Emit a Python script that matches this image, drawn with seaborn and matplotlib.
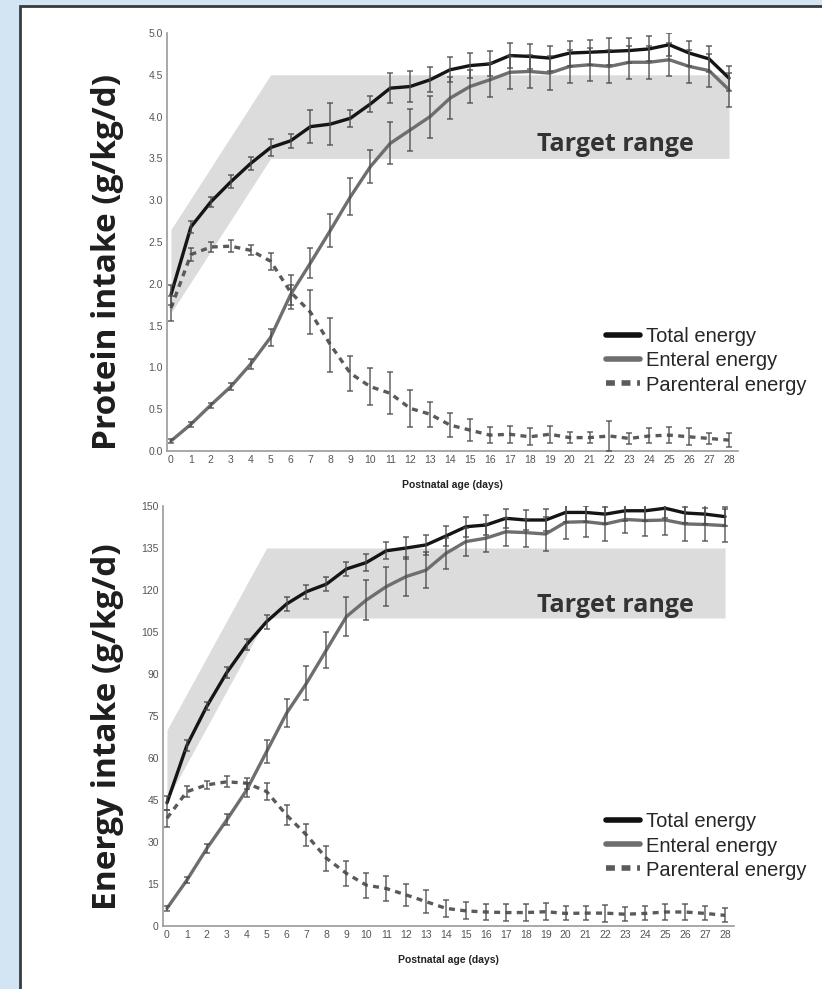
import pandas as pd
import matplotlib
matplotlib.use("Agg")
import matplotlib.pyplot as plt
import seaborn as sns
from matplotlib.lines import Line2D
from matplotlib.patches import Rectangle

# Postnatal days shown on the x axis
days = list(range(29))

# Protein intake (g/kg/d), mean and error
protein_total = [1.87, 2.68, 2.98, 3.22, 3.44, 3.63, 3.71, 3.88, 3.91, 3.98, 4.15, 4.34, 4.36, 4.44, 4.56,
                 4.61, 4.63, 4.73, 4.72, 4.70, 4.76, 4.77, 4.78, 4.79, 4.81, 4.86, 4.76, 4.69, 4.46]
protein_total_err = [0.12, 0.07, 0.06, 0.08, 0.08, 0.1, 0.08, 0.2, 0.25, 0.1, 0.1, 0.18, 0.18, 0.15, 0.15,
                     0.15, 0.15, 0.15, 0.15, 0.15, 0.15, 0.15, 0.16, 0.15, 0.15, 0.14, 0.15, 0.16, 0.15]
protein_enteral = [0.12, 0.32, 0.55, 0.77, 1.04, 1.36, 1.87, 2.25, 2.64, 3.04, 3.40, 3.68, 3.84, 4.00, 4.22,
                   4.36, 4.44, 4.53, 4.54, 4.52, 4.60, 4.62, 4.60, 4.65, 4.65, 4.68, 4.60, 4.55, 4.32]
protein_enteral_err = [0.02, 0.03, 0.03, 0.04, 0.06, 0.1, 0.12, 0.18, 0.2, 0.22, 0.2, 0.25, 0.25, 0.25, 0.25,
                       0.2, 0.2, 0.2, 0.2, 0.2, 0.2, 0.2, 0.2, 0.2, 0.2, 0.2, 0.2, 0.2, 0.2]
protein_parenteral = [1.71, 2.35, 2.44, 2.45, 2.40, 2.27, 1.90, 1.66, 1.27, 0.93, 0.77, 0.69, 0.51, 0.44, 0.31,
                      0.25, 0.19, 0.20, 0.17, 0.20, 0.16, 0.16, 0.18, 0.15, 0.18, 0.19, 0.17, 0.15, 0.13]
protein_parenteral_err = [0.15, 0.08, 0.06, 0.07, 0.06, 0.1, 0.2, 0.26, 0.32, 0.21, 0.22, 0.25, 0.22, 0.15, 0.14,
                          0.13, 0.1, 0.1, 0.1, 0.1, 0.07, 0.07, 0.18, 0.07, 0.09, 0.1, 0.1, 0.07, 0.08]

# Energy intake, mean and error
energy_total = [44, 64.5, 78.5, 90.5, 100.5, 108.7, 115, 119.4, 122.1, 127.5, 129.8, 134, 135, 136.1, 139.3,
                142.6, 143.2, 145.6, 145, 145, 147.7, 147.7, 147.1, 148.3, 148.3, 149.2, 147.5, 147.1, 146.2]
energy_total_err = [2.5, 2, 1.5, 2, 2, 2.5, 2.5, 2.5, 2.5, 2.5, 3, 3, 4, 3.5, 3.5,
                    3.5, 3.5, 3.5, 3.5, 4, 3.5, 3.5, 3.5, 3.5, 3.5, 3.5, 3.5, 3.5, 3.5]
energy_enteral = [6.3, 16.4, 27.7, 37.9, 48.6, 62.3, 76, 86.7, 98.6, 110.5, 116.4, 121.2, 124.8, 127.1, 133.1,
                  137.3, 138.5, 140.8, 140.5, 140, 144.2, 144.4, 143.6, 145.2, 144.8, 145, 143.6, 143.4, 143]
energy_enteral_err = [1, 1, 1.5, 2, 2.5, 4, 5, 6, 6.5, 7, 7, 7, 7, 6.5, 5.5,
                      5, 5, 5, 5, 6, 6, 5.5, 6, 5, 5.5, 5.5, 6, 6, 6]
energy_parenteral = [38.5, 48, 50.4, 51.5, 51, 48, 39.6, 32.5, 24.2, 18.8, 14.6, 13.4, 11.1, 8.7, 6.3,
                     5.4, 5.0, 4.8, 4.8, 5.1, 4.5, 4.6, 4.6, 4.2, 4.5, 5.0, 5.0, 4.5, 3.8]
energy_parenteral_err = [3, 2, 1.5, 2, 2, 3, 3.5, 4, 4.5, 4.5, 4.5, 4.5, 4, 4, 3,
                         3, 3, 3, 3, 3, 2.5, 2.5, 3, 2.5, 2.5, 3, 3, 2.5, 2.5]

# Target range bands (day, lower, upper)
band_days = [0, 5, 28]
protein_band_low = [1.65, 3.5, 3.5]
protein_band_high = [2.65, 4.5, 4.5]
energy_band_low = [45, 110, 110]
energy_band_high = [70, 135, 135]

series_names = ["Total energy", "Enteral energy", "Parenteral energy"]
protein_ticks = [0.0, 0.5, 1.0, 1.5, 2.0, 2.5, 3.0, 3.5, 4.0, 4.5, 5.0]
energy_ticks = [0, 15, 30, 45, 60, 75, 90, 105, 120, 135, 150]

palette = {"Total energy": "#151515", "Enteral energy": "#6e6e6e", "Parenteral energy": "#5a5a5a"}
dashes = {"Total energy": "", "Enteral energy": "", "Parenteral energy": (1.8, 1.6)}


def long_table(total, total_err, enteral, enteral_err, parenteral, parenteral_err):
    frames = []
    for name, vals, errs in zip(series_names, [total, enteral, parenteral],
                                [total_err, enteral_err, parenteral_err]):
        frames.append(pd.DataFrame({"day": days, "value": vals, "err": errs, "series": name}))
    return pd.concat(frames, ignore_index=True)


protein_df = long_table(protein_total, protein_total_err, protein_enteral, protein_enteral_err,
                        protein_parenteral, protein_parenteral_err)
energy_df = long_table(energy_total, energy_total_err, energy_enteral, energy_enteral_err,
                       energy_parenteral, energy_parenteral_err)

sns.set_style("white")
plt.rcParams['font.family'] = ['Liberation Sans', 'DejaVu Sans']

fig = plt.figure(figsize=(8.22, 9.89), dpi=100)
fig.patch.set_facecolor("#d3e5f3")
# slide-like white panel with a dark frame on the left/top
fig.patches.append(Rectangle((20 / 822, -0.05), 1.2, 1.05 - 6 / 989, transform=fig.transFigure,
                             facecolor="white", edgecolor="#3a3a3a", linewidth=2, zorder=-10))

ax_top = fig.add_axes([167 / 822, 1 - 451 / 989, 571 / 822, 418 / 989])
ax_bot = fig.add_axes([163 / 822, 1 - 926 / 989, 571 / 822, 420 / 989])

panels = [
    (ax_top, protein_df, protein_band_low, protein_band_high, protein_ticks, (0, 5.0), "%.1f",
     "Protein intake (g/kg/d)", (22.3, 3.67), 1 - 262 / 989, 1 - 361 / 989),
    (ax_bot, energy_df, energy_band_low, energy_band_high, energy_ticks, (0, 150), "%d",
     "Energy intake (g/kg/d)", (22.5, 114.5), 1 - 727 / 989, 1 - 846 / 989),
]

for ax, df, low, high, ticks, ylim, fmt, big_label, tpos, ly, legy in panels:
    ax.set_facecolor("none")
    ax.fill_between(band_days, low, high, color="#dcdcdc", linewidth=0, zorder=0)

    sns.lineplot(data=df, x="day", y="value", hue="series", style="series",
                 palette=palette, dashes=dashes, linewidth=2.4, legend=False,
                 errorbar=None, ax=ax, zorder=3)
    for name in series_names:
        sub = df[df["series"] == name]
        ax.errorbar(sub["day"], sub["value"], yerr=sub["err"], fmt="none",
                    ecolor="#4a4a4a", elinewidth=1.1, capsize=2.2, capthick=1.1, alpha=0.85, zorder=4)

    ax.set_xlim(-0.2, 28.45)
    ax.set_ylim(*ylim)
    ax.set_xticks(days)
    ax.set_yticks(ticks)
    ax.set_yticklabels([fmt % t for t in ticks])
    ax.tick_params(axis="both", length=0, labelsize=7.5, labelcolor="#555555", pad=3)
    ax.set_xlabel("Postnatal age (days)", fontsize=7.5, fontweight="bold", color="#222222", labelpad=11)
    ax.set_ylabel("")
    sns.despine(ax=ax)
    for side in ["left", "bottom"]:
        ax.spines[side].set_color("#9a9a9a")
        ax.spines[side].set_linewidth(1.2)

    ax.text(tpos[0], tpos[1], "Target range", fontsize=18, fontweight="bold", color="#333333",
            family=["Open Sans", "DejaVu Sans"], ha="center", va="center")

    fig.text(107 / 822, ly, big_label, rotation=90, ha="center", va="center",
             fontsize=24, fontweight="bold", color="#1e1e1e", family=["Open Sans", "DejaVu Sans"])

    handles = [Line2D([], [], color="#111111", linewidth=4),
               Line2D([], [], color="#6e6e6e", linewidth=4),
               Line2D([], [], color="#5a5a5a", linewidth=4, dashes=(1.6, 1.2))]
    fig.legend(handles, series_names, loc="center left", bbox_to_anchor=(606 / 822, legy),
               bbox_transform=fig.transFigure, frameon=False, fontsize=14.5, handlelength=1.7,
               handletextpad=0.3, labelspacing=0.25, borderpad=0, borderaxespad=0)

fig.savefig("out.png", dpi=100, facecolor=fig.get_facecolor())
